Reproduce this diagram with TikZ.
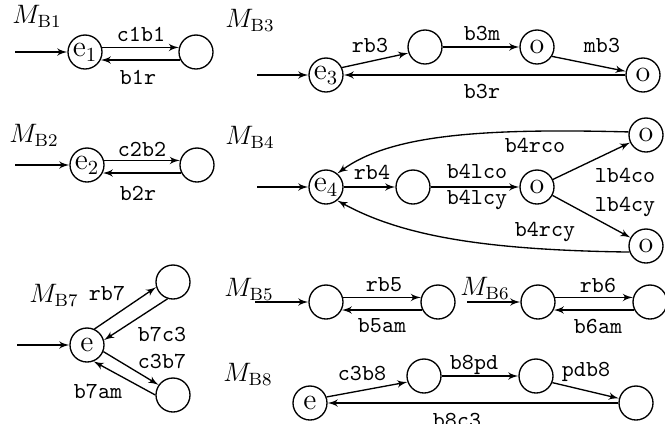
\documentclass[tikz,border=0pt]{standalone}
\usepackage{fontspec}
\usetikzlibrary{arrows}
\tikzset{state/.style = {circle, draw, minimum size=15.3pt, inner sep=0pt,
                         font=\fontsize{13.5}{15}\selectfont},
         lab/.style = {inner sep=0pt, font=\fontsize{10.3}{11}\selectfont\ttfamily},
         mach/.style = {inner sep=0pt, font=\fontsize{12}{14}\selectfont}}

\begin{document}
\begin{tikzpicture}[x=0.45pt, y=-0.45pt, >=latex', line width=0.6pt]
  \useasboundingbox (0, 0) rectangle (665, 423);

  \node [mach] (mb1) at (37, 16) {$M_{\mathrm{B1}}$};
  \coordinate (s1) at (15, 52);
  \node [state] (e1) at (85, 52) {e$_1$};
  \node [state] (b1) at (196, 52) {};
  \draw [->] (s1) -- (e1);
  \draw [->] (e1.15) -- (b1.165);
  \draw [->] (b1.-153) -- (e1.-27);
  \node [lab] (c1b1) at (141, 34) {c1b1};
  \node [lab] (b1r) at (138, 77) {b1r};

  \node [mach] (mb2) at (34, 135) {$M_{\mathrm{B2}}$};
  \coordinate (s2) at (15, 165);
  \node [state] (e2) at (87, 165) {e$_2$};
  \node [state] (b2) at (197, 165) {};
  \draw [->] (s2) -- (e2);
  \draw [->] (e2.15) -- (b2.165);
  \draw [->] (b2.-153) -- (e2.-27);
  \node [lab] (c2b2) at (142, 149) {c2b2};
  \node [lab] (b2r) at (138, 193) {b2r};

  \node [mach] (mb3) at (250, 21) {$M_{\mathrm{B3}}$};
  \coordinate (s3) at (257, 75);
  \node [state] (e3) at (326, 75) {e$_3$};
  \node [state] (r3) at (425, 47) {};
  \node [state] (m3) at (537, 47) {o};
  \node [state] (o3) at (643, 75) {o};
  \draw [->] (s3) -- (e3);
  \draw [->] (e3.25) -- (r3.200);
  \draw [->] (r3) -- (m3);
  \draw [->] (m3.-32) -- (o3.168);
  \draw [->] (o3) -- (e3);
  \node [lab] (rb3) at (370, 46) {rb3};
  \node [lab] (b3m) at (482, 34) {b3m};
  \node [lab] (mb3l) at (602, 46) {mb3};
  \node [lab] (b3r) at (482, 92) {b3r};

  \node [mach] (mb4) at (250, 137) {$M_{\mathrm{B4}}$};
  \coordinate (s4) at (257, 187);
  \node [state] (e4) at (326, 187) {e$_4$};
  \node [state] (r4) at (413, 187) {};
  \node [state] (l4) at (537, 187) {o};
  \node [state] (co4) at (646, 135) {o};
  \node [state] (cy4) at (646, 246) {o};
  \draw [->] (s4) -- (e4);
  \draw [->] (e4) -- (r4);
  \draw [->] (r4) -- (l4);
  \draw [->] (l4) -- (co4);
  \draw [->] (l4) -- (cy4);
  \draw [->] (co4.170) .. controls (480, 128) and (390, 135) .. (e4.50);
  \draw [->] (cy4.200) .. controls (480, 250) and (400, 235) .. (e4.-50);
  \node [lab] (b4rco) at (535, 145) {b4rco};
  \node [lab] (rb4) at (372, 172) {rb4};
  \node [lab] (b4lco) at (477, 171) {b4lco};
  \node [lab] (b4lcy) at (477, 200) {b4lcy};
  \node [lab] (lb4co) at (625, 175) {lb4co};
  \node [lab] (lb4cy) at (625, 207) {lb4cy};
  \node [lab] (b4rcy) at (545, 232) {b4rcy};

  \node [mach] (mb7) at (54, 296) {$M_{\mathrm{B7}}$};
  \coordinate (s7) at (17, 345);
  \node [state] (e7) at (87, 345) {e};
  \node [state] (c7) at (173, 282) {};
  \node [state] (a7) at (173, 395) {};
  \draw [->] (s7) -- (e7);
  \draw [->] (e7.65) -- (c7.197);
  \draw [->] (c7.252) -- (e7.16);
  \draw [->] (e7.-22) -- (a7.145);
  \draw [->] (a7.180) -- (e7.-68);
  \node [lab] (rb7) at (107, 293) {rb7};
  \node [lab] (b7c3) at (162, 334) {b7c3};
  \node [lab] (c3b7) at (162, 361) {c3b7};
  \node [lab] (b7am) at (98, 391) {b7am};

  \node [mach] (mb5) at (249, 290) {$M_{\mathrm{B5}}$};
  \coordinate (s5) at (255, 302);
  \node [state] (r5) at (326, 302) {};
  \node [state] (a5) at (438, 302) {};
  \draw [->] (s5) -- (r5);
  \draw [->] (r5.15) -- (a5.165);
  \draw [->] (a5.-153) -- (r5.-27);
  \node [lab] (rb5) at (384, 285) {rb5};
  \node [lab] (b5am) at (382, 326) {b5am};

  \node [mach] (mb6) at (485, 289) {$M_{\mathrm{B6}}$};
  \coordinate (s6) at (467, 302);
  \node [state] (r6) at (538, 302) {};
  \node [state] (a6) at (650, 302) {};
  \draw [->] (s6) -- (r6);
  \draw [->] (r6.15) -- (a6.165);
  \draw [->] (a6.-153) -- (r6.-27);
  \node [lab] (rb6) at (598, 285) {rb6};
  \node [lab] (b6am) at (598, 326) {b6am};

  \node [mach] (mb8) at (248, 375) {$M_{\mathrm{B8}}$};
  \node [state] (e8) at (310, 403) {e};
  \node [state] (c8) at (424, 376) {};
  \node [state] (p8) at (536, 376) {};
  \node [state] (d8) at (636, 403) {};
  \draw [->] (e8.20) -- (c8.200);
  \draw [->] (c8) -- (p8);
  \draw [->] (p8.-22) -- (d8.165);
  \draw [->] (d8) -- (e8);
  \node [lab] (c3b8) at (362, 373) {c3b8};
  \node [lab] (b8pd) at (474, 365) {b8pd};
  \node [lab] (pdb8) at (586, 372) {pdb8};
  \node [lab] (b8c3) at (457, 420) {b8c3};
\end{tikzpicture}
\end{document}
